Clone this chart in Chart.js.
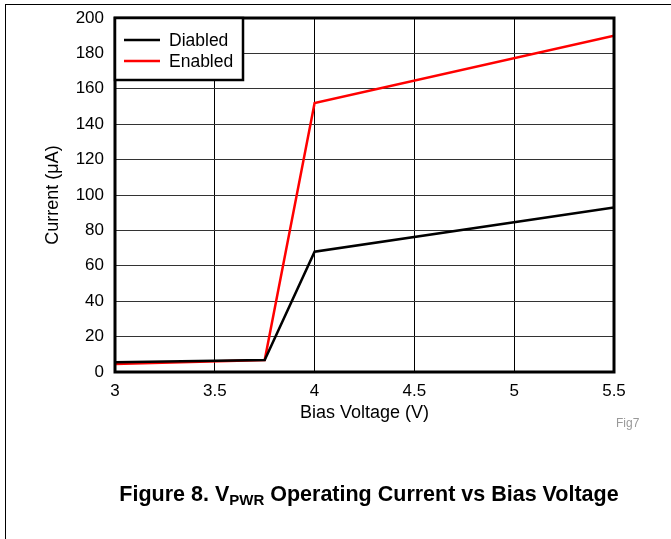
<!DOCTYPE html>
<html>
<head>
<meta charset="utf-8">
<script src="https://cdn.jsdelivr.net/npm/chart.js@4"></script>
<style>
  body { margin: 0; background: #fff; font-family: "Liberation Sans", Arial, sans-serif; }
  #wrap { position: relative; width: 671px; height: 539px; overflow: hidden; }
  #frame { position: absolute; left: 5px; top: 4px; width: 700px; height: 600px; border-left: 1px solid #000; border-top: 1px solid #000; }
  canvas { position: absolute; left: 0; top: 0; }
  #fig { position: absolute; left: 616px; top: 416px; font-size: 12px; color: #999; }
  #caption { position: absolute; left: 0; width: 738px; top: 482px; text-align: center; font-size: 21.5px; font-weight: bold; }
  #caption sub { font-size: 15px; vertical-align: -4px; }
</style>
</head>
<body>
<div id="wrap">
  <div id="frame"></div>
  <canvas id="c" width="671" height="539"></canvas>
  <div id="fig">Fig7</div>
  <div id="caption">Figure 8. V<sub>PWR</sub> Operating Current vs Bias Voltage</div>
</div>
<script>
const voltage = [3, 3.75, 4, 5.5];
const disabledCurrent = [5.5, 6.8, 68, 93];
const enabledCurrent = [4.5, 6.8, 152, 190];
const seriesNames = ["Diabled", "Enabled"];
const seriesColors = ["#000000", "#ff0000"];

// frame around plot + boxed legend in top-left corner
const framePlugin = {
    id: "frame",
    afterDatasetsDraw(chart) {
        const { ctx, chartArea: a } = chart;
        ctx.save();
        ctx.strokeStyle = "#000";
        ctx.lineWidth = 3;
        ctx.strokeRect(a.left, a.top, a.right - a.left, a.bottom - a.top);

        const bx = a.left, by = a.top, bw = 128, bh = 62;
        ctx.fillStyle = "#fff";
        ctx.fillRect(bx, by, bw, bh);
        ctx.lineWidth = 2.5;
        ctx.strokeRect(bx, by, bw, bh);
        ctx.font = "17.5px 'Liberation Sans', Arial, sans-serif";
        ctx.textBaseline = "middle";
        seriesNames.forEach((name, i) => {
            const y = by + 22 + i * 21;
            ctx.strokeStyle = seriesColors[i];
            ctx.lineWidth = 2.5;
            ctx.beginPath();
            ctx.moveTo(bx + 9, y);
            ctx.lineTo(bx + 45, y);
            ctx.stroke();
            ctx.fillStyle = "#000";
            ctx.fillText(name, bx + 54, y + 1);
        });
        ctx.restore();
    }
};

const font = (size) => ({ size, family: "'Liberation Sans', Arial" });

new Chart(document.getElementById("c"), {
    type: "line",
    data: {
        datasets: [{
            label: seriesNames[0],
            data: voltage.map((v, i) => ({ x: v, y: disabledCurrent[i] })),
            borderColor: seriesColors[0],
            borderWidth: 2.5,
            pointRadius: 0,
            tension: 0
        }, {
            label: seriesNames[1],
            data: voltage.map((v, i) => ({ x: v, y: enabledCurrent[i] })),
            borderColor: seriesColors[1],
            borderWidth: 2.5,
            pointRadius: 0,
            tension: 0
        }]
    },
    options: {
        responsive: false,
        animation: false,
        layout: { padding: { left: 0, top: 18, right: 57, bottom: 107 } },
        plugins: { legend: { display: false }, tooltip: { enabled: false } },
        scales: {
            x: {
                type: "linear",
                min: 3, max: 5.5,
                ticks: { stepSize: 0.5, color: "#000", font: font(17), padding: 9, maxRotation: 0,
                         callback: v => String(v) },
                grid: { color: "#000", lineWidth: 1, drawTicks: false },
                border: { display: false },
                title: { display: true, text: "Bias Voltage (V)", color: "#000", font: font(18), padding: { top: 0, bottom: 8 } },
                afterFit(scale) { scale.height = 60; scale.paddingRight = 0; }
            },
            y: {
                min: 0, max: 200,
                ticks: { stepSize: 20, color: "#000", font: font(17), padding: 11 },
                grid: { color: "#333", lineWidth: 1, drawTicks: false },
                border: { display: false },
                title: { display: true, text: "Current (\u03bcA)", color: "#000", font: font(18), padding: { top: 42, bottom: 0 } },
                afterFit(scale) { scale.width = 115; scale.paddingTop = 0; scale.paddingBottom = 0; }
            }
        }
    },
    plugins: [framePlugin]
});
</script>
</body>
</html>
